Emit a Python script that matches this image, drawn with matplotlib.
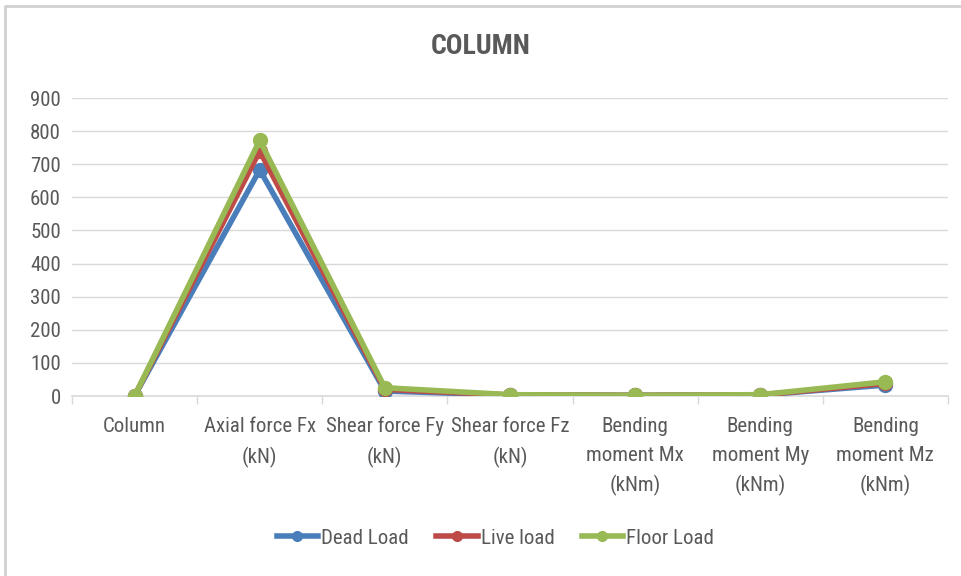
import matplotlib.pyplot as plt
import numpy as np
from matplotlib import font_manager

# pick a narrow face if one is available
names = {f.name for f in font_manager.fontManager.ttflist}
narrow = [n for n in ['Liberation Sans Narrow', 'DejaVu Sans Condensed', 'Roboto Condensed',
                      'Open Sans Condensed'] if n in names]
plt.rcParams['font.family'] = narrow + ['DejaVu Sans']
plt.rcParams['font.stretch'] = 'condensed'

categories = ['Column', 'Axial force Fx\n(kN)', 'Shear force Fy\n(kN)', 'Shear force Fz\n(kN)',
              'Bending\nmoment Mx\n(kNm)', 'Bending\nmoment My\n(kNm)', 'Bending\nmoment Mz\n(kNm)']
dead_load = [0, 683, 15, 3, 2, 3, 33]
live_load = [0, 740, 20, 3, 2, 3, 38]
floor_load = [0, 772, 25, 4, 2, 4, 43]

fig = plt.figure(figsize=(9.62, 5.76), dpi=100)
ax = fig.add_axes([72/962, 1-396/576, 876/962, 298/576])

x = np.arange(len(categories))
ax.plot(x, dead_load, color='#4a7ebb', lw=4, marker='o', ms=10, label='Dead Load', zorder=3)
ax.plot(x, live_load, color='#be4b48', lw=4, marker='o', ms=10, label='Live load', zorder=4)
ax.plot(x, floor_load, color='#98b954', lw=4, marker='o', ms=10, label='Floor Load', zorder=5)

ax.set_xlim(-0.5, len(categories) - 0.5)
ax.set_ylim(0, 900)
ax.set_yticks(range(0, 901, 100))
ax.grid(axis='y', color='#d9d9d9', lw=1)
ax.set_axisbelow(True)
for s in ['top', 'right', 'left']:
    ax.spines[s].set_visible(False)
ax.spines['bottom'].set_color('#d9d9d9')
ax.spines['bottom'].set_linewidth(1.2)

fs = 15 if narrow else 12
ax.set_xticks(np.arange(-0.5, len(categories)), minor=False)
ax.set_xticklabels([])
ax.tick_params(axis='x', length=6, color='#d9d9d9', width=1)
ax.set_xticks(x, minor=True)
ax.set_xticklabels(categories, minor=True, fontsize=fs, color='#595959', va='top', linespacing=1.65)
ax.tick_params(axis='x', which='minor', length=0, pad=15)
ax.tick_params(axis='y', length=0, labelsize=fs, labelcolor='#595959', pad=8)

fig.text(0.5, 1 - 47/576, 'COLUMN', ha='center', va='center', fontsize=20, fontweight='semibold',
         color='#595959')

fig.legend(loc='center', bbox_to_anchor=(0.515, 1 - 538/576), ncol=3, frameon=False,
           fontsize=fs, labelcolor='#595959', handlelength=2.0, columnspacing=1.3,
           handletextpad=0.15, markerscale=0.7)

# light frame around the chart
fig.add_artist(plt.Line2D([0.005, 0.005, 1], [0, 0.99, 0.99], color='#d0d0d0', lw=2,
                          transform=fig.transFigure))

fig.savefig('out.png', dpi=100)
